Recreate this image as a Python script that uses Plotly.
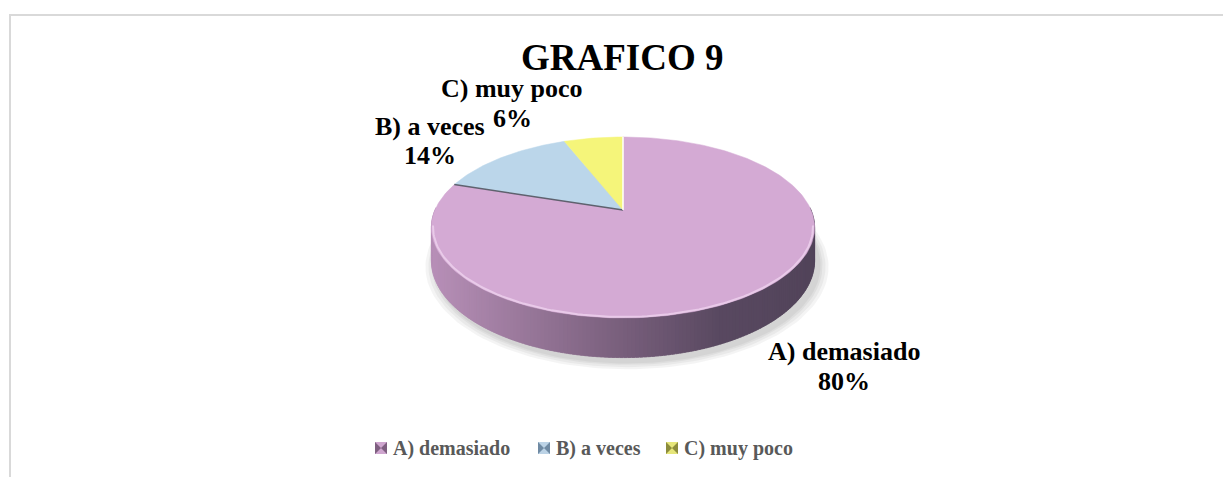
import numpy as np
import plotly.graph_objects as go

# ======================
# Données
# ======================
categories = ["A) demasiado", "B) a veces", "C) muy poco"]
percents = [80, 14, 6]
title_text = "GRAFICO 9"

top_colors = ["#d4aad4", "#bbd6ea", "#f5f57a"]
legend_light = ["#cfa6cf", "#bcd3e6", "#e6e67a"]
legend_dark = ["#7e5f80", "#6f8aa3", "#8c8c3c"]

# positions des étiquettes (centre x, y ligne 1, y ligne 2)
label_pos = [(844, 351, 381), (430, 126, 155), (512, 88, 118)]
legend_x = [381, 544, 672]
legend_y = 448

# ======================
# Géométrie du camembert 3D (perspective simple)
# ======================
CX, CY = 623, 210
RX, RY = 188, 87.1
P = 0.193
DEPTH = 32
W, H = 1223, 477
FONT = "Liberation Serif"


def project(theta_deg, drop=0.0, scale=1.0):
    t = np.radians(theta_deg)
    a, b = np.sin(t) * scale, np.cos(t) * scale
    k = 1.0 / (1.0 + P * b)
    return CX + RX * a * k, CY - RY * b * k + drop * k


def side_color(t):
    stops = [(0.0, (184, 144, 184)), (0.45, (126, 99, 129)),
             (0.75, (89, 73, 97)), (1.0, (82, 68, 90))]
    for (t0, c0), (t1, c1) in zip(stops[:-1], stops[1:]):
        if t <= t1:
            f = (t - t0) / (t1 - t0)
            c = [int(c0[i] + f * (c1[i] - c0[i])) for i in range(3)]
            return f"rgb({c[0]},{c[1]},{c[2]})"
    return "rgb(82,68,90)"


fig = go.Figure()

# ombre portée
full = np.linspace(0, 360, 181)
for s in [1.05, 1.035, 1.02, 1.01]:
    sx, sy = project(full, DEPTH + 2, s)
    fig.add_trace(go.Scatter(
        x=sx + 4, y=sy + 2, mode="lines", fill="toself",
        fillcolor="rgba(0,0,0,0.045)", line=dict(width=0),
        hoverinfo="skip", showlegend=False
    ))

# angles cumulés (sens horaire depuis midi)
total = sum(percents)
ends = np.cumsum(percents) / total * 360
starts = np.concatenate([[0], ends[:-1]])

# paroi latérale (dégradé)
xmin, xmax = CX - 1.02 * RX, CX + 1.02 * RX
for t0 in np.arange(88, 271, 1.0):
    arc = np.linspace(t0, t0 + 1.8, 3)
    tx, ty = project(arc)
    bx, by = project(arc[::-1], DEPTH)
    mx, _ = project(t0 + 0.9)
    col = side_color((mx - xmin) / (xmax - xmin))
    fig.add_trace(go.Scatter(
        x=np.concatenate([tx, bx]), y=np.concatenate([ty, by]),
        mode="lines", fill="toself", fillcolor=col,
        line=dict(color=col, width=0.5), hoverinfo="skip", showlegend=False
    ))

# face supérieure
for name, s0, s1, col in zip(categories, starts, ends, top_colors):
    arc = np.linspace(s0, s1, max(int(s1 - s0), 4))
    ax_, ay_ = project(arc)
    fig.add_trace(go.Scatter(
        x=np.concatenate([[CX], ax_, [CX]]), y=np.concatenate([[CY], ay_, [CY]]),
        mode="lines", fill="toself", fillcolor=col,
        line=dict(color=col, width=0.5), name=name,
        hoverinfo="skip", showlegend=False
    ))

# reflet du biseau
rim = np.linspace(100, 260, 120)
rx_, ry_ = project(rim, 0, 0.992)
fig.add_trace(go.Scatter(
    x=rx_, y=ry_, mode="lines",
    line=dict(color="rgba(236,208,236,0.85)", width=2),
    hoverinfo="skip", showlegend=False
))

# séparations entre parts
for ang, col in [(ends[0], "rgba(70,70,80,0.8)"), (0, "white")]:
    ex, ey = project(ang)
    fig.add_trace(go.Scatter(
        x=[CX, ex], y=[CY, ey], mode="lines",
        line=dict(color=col, width=1.5), hoverinfo="skip", showlegend=False
    ))

# légende manuelle
for name, lx, cl, cd in zip(categories, legend_x, legend_light, legend_dark):
    fig.add_trace(go.Scatter(
        x=[lx], y=[legend_y], mode="markers",
        marker=dict(symbol="square", size=12, color=cl, line=dict(width=0)),
        hoverinfo="skip", showlegend=False
    ))
    fig.add_trace(go.Scatter(
        x=[lx], y=[legend_y], mode="markers",
        marker=dict(symbol="bowtie", size=12, color=cd, line=dict(width=0)),
        hoverinfo="skip", showlegend=False
    ))
    fig.add_annotation(
        x=lx + 10, y=legend_y, text=f"<b>{name}</b>", showarrow=False,
        xanchor="left", yanchor="middle",
        font=dict(family=FONT, size=20, color="#595959")
    )

# étiquettes de données
for name, pct, (px, py1, py2) in zip(categories, percents, label_pos):
    fig.add_annotation(x=px, y=py1, text=f"<b>{name}</b>", showarrow=False,
                       xanchor="center", yanchor="middle",
                       font=dict(family=FONT, size=26, color="black"))
    fig.add_annotation(x=px, y=py2, text=f"<b>{pct}%</b>", showarrow=False,
                       xanchor="center", yanchor="middle",
                       font=dict(family=FONT, size=26, color="black"))

# titre
fig.add_annotation(x=622, y=57.5, text=f"<b>{title_text}</b>", showarrow=False,
                   xanchor="center", yanchor="middle",
                   font=dict(family=FONT, size=37, color="black"))

# bordure du graphique
fig.add_shape(type="rect", x0=10, y0=15, x1=W + 20, y1=H + 20,
              line=dict(color="#d9d9d9", width=2), layer="below")

fig.update_layout(
    width=W, height=H,
    margin=dict(l=0, r=0, t=0, b=0),
    paper_bgcolor="white", plot_bgcolor="white",
    xaxis=dict(range=[0, W], visible=False, fixedrange=True),
    yaxis=dict(range=[H, 0], visible=False, fixedrange=True),
    showlegend=False,
)

fig.write_html("out.html", config={"displayModeBar": False},
               post_script="document.body.style.margin='0';")
